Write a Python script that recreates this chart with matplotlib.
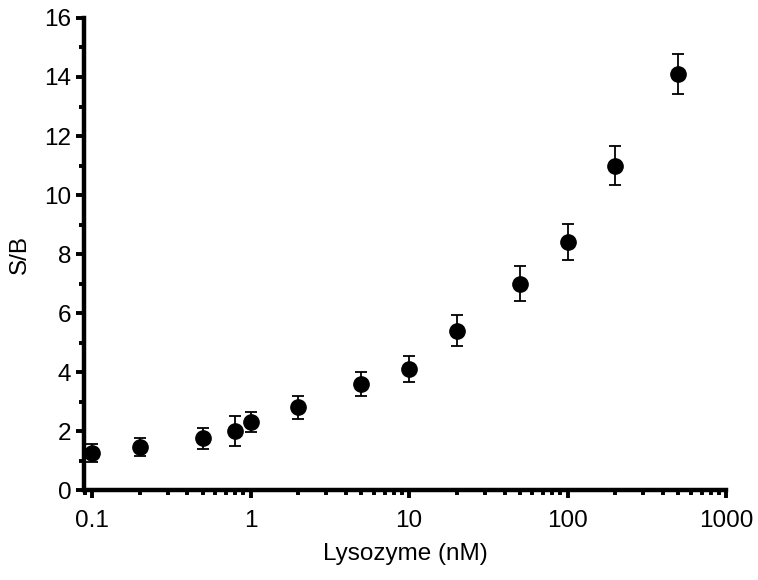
import matplotlib
matplotlib.use("Agg")
import matplotlib.pyplot as plt
from matplotlib.ticker import LogLocator, FixedLocator, NullFormatter

plt.rcParams['font.family'] = ['Liberation Sans', 'DejaVu Sans']

conc = [0.1, 0.2, 0.5, 0.8, 1, 2, 5, 10, 20, 50, 100, 200, 500]
sb = [1.26, 1.45, 1.75, 2.0, 2.3, 2.8, 3.6, 4.1, 5.4, 7.0, 8.4, 11.0, 14.1]
err = [0.3, 0.3, 0.35, 0.5, 0.33, 0.39, 0.4, 0.44, 0.52, 0.59, 0.61, 0.66, 0.68]
xticks = [0.1, 1, 10, 100, 1000]
xtick_labels = ["0.1", "1", "10", "100", "1000"]
yticks = [0, 2, 4, 6, 8, 10, 12, 14, 16]

fig = plt.figure(figsize=(7.58, 5.80), dpi=100)
ax = fig.add_axes([0.1108, 0.155, 0.958 - 0.1108, 0.969 - 0.155])

ax.errorbar(conc, sb, yerr=err, fmt='o', color='black', markersize=11,
            ecolor='black', elinewidth=1.3, capsize=4.5, capthick=1.3)

ax.set_xscale('log')
ax.set_xlim(0.089, 1000)
ax.set_ylim(0, 16)
ax.set_xticks(xticks)
ax.set_xticklabels(xtick_labels)
ax.xaxis.set_minor_locator(LogLocator(base=10, subs=range(2, 10)))
ax.xaxis.set_minor_formatter(NullFormatter())
ax.set_yticks(yticks)
ax.yaxis.set_minor_locator(FixedLocator([1, 3, 5, 7, 9, 11, 13, 15]))

for s in ['top', 'right']:
    ax.spines[s].set_visible(False)
for s in ['left', 'bottom']:
    ax.spines[s].set_linewidth(3.2)

ax.tick_params(axis='both', which='major', direction='out', length=6, width=2.8,
               labelsize=17.5, pad=3)
ax.tick_params(axis='both', which='minor', direction='out', length=3.5, width=2.8)
ax.tick_params(axis='x', which='major', pad=8)

ax.set_xlabel("Lysozyme (nM)", fontsize=17.5, labelpad=8)
ax.set_ylabel("S/B", fontsize=17.5, labelpad=10)

fig.savefig("out.png", dpi=100)
